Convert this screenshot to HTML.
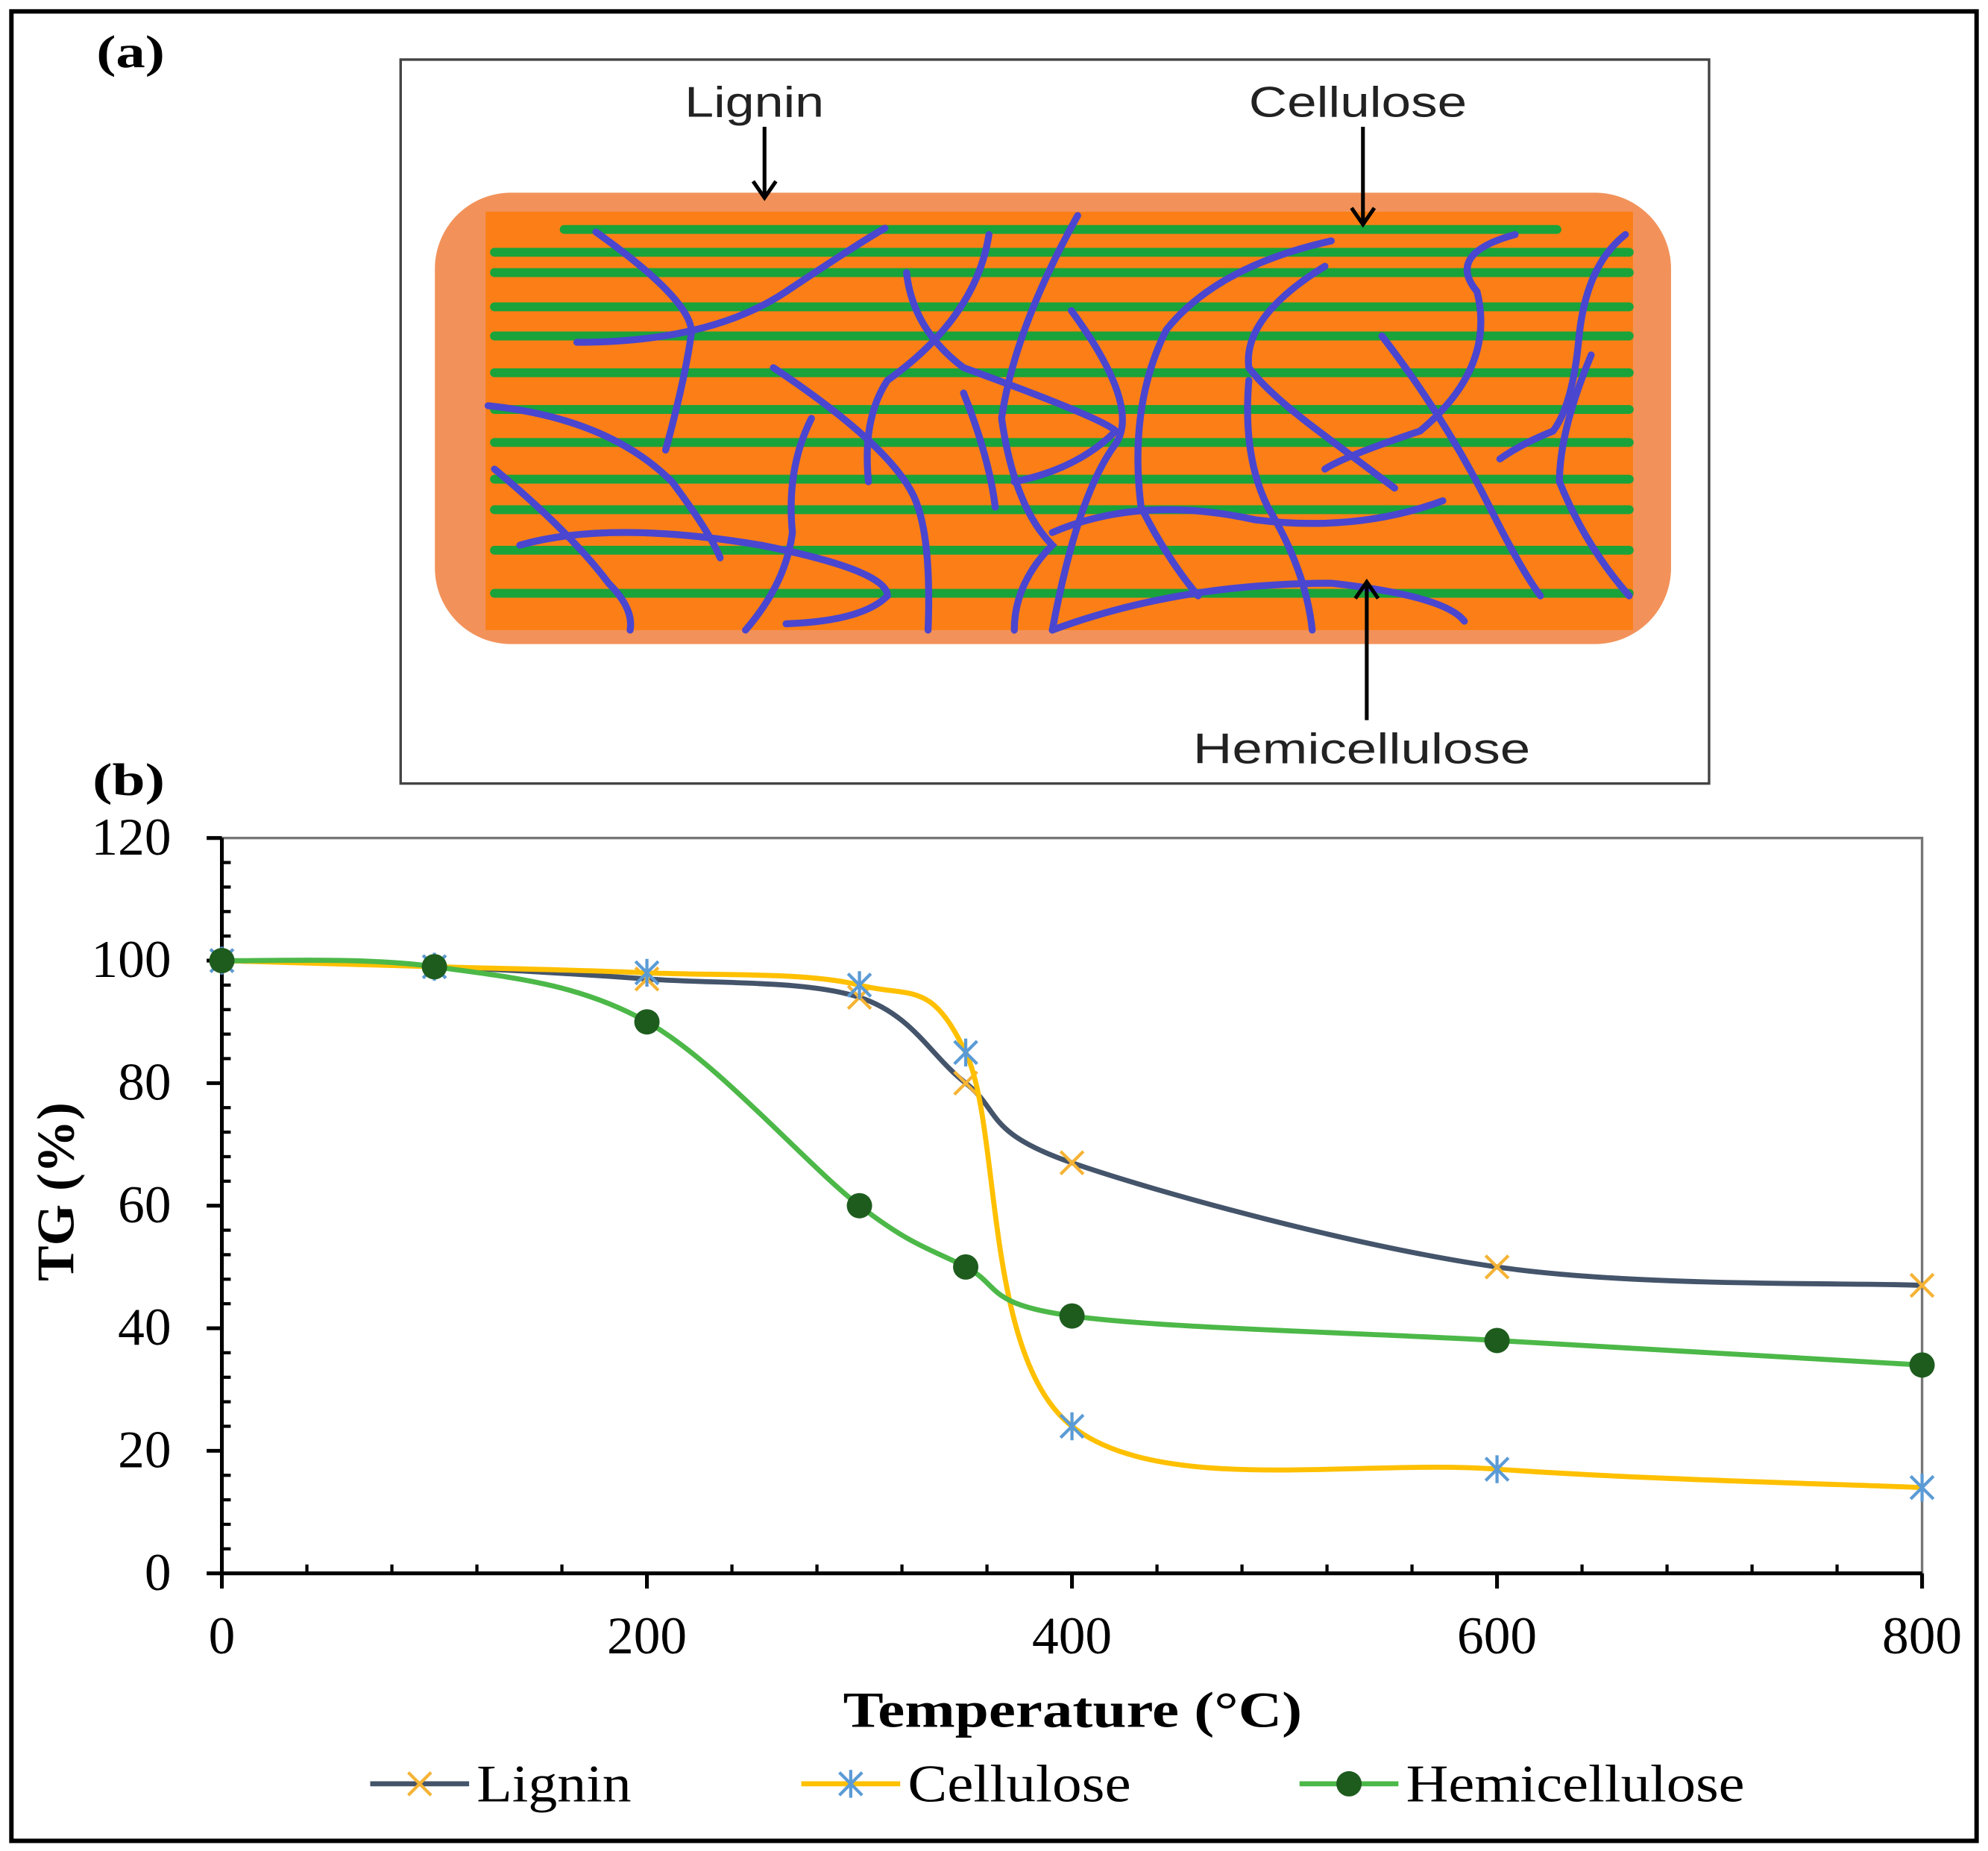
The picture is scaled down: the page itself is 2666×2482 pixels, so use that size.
<!DOCTYPE html>
<html><head><meta charset="utf-8"><style>
html,body{margin:0;padding:0;background:#fff;}
svg{display:block;}
</style></head><body>
<svg id="fig" width="2666" height="2482" viewBox="0 0 1568 1460" preserveAspectRatio="none" xmlns="http://www.w3.org/2000/svg">
<rect x="9" y="9" width="1550" height="1443" fill="#fff" stroke="#000" stroke-width="3.5"/>
<text x="76" y="53" font-family="Liberation Serif, serif" font-weight="bold" font-size="36" textLength="54" lengthAdjust="spacingAndGlyphs">(a)</text>
<text x="73" y="627" font-family="Liberation Serif, serif" font-weight="bold" font-size="36" textLength="57" lengthAdjust="spacingAndGlyphs">(b)</text>
<g>
<rect x="316" y="47" width="1032" height="571" fill="#fff" stroke="#444" stroke-width="2"/>
<rect x="343" y="152" width="975" height="356" rx="60" fill="#f2925a"/>
<rect x="383" y="167" width="905" height="330" fill="#fb7f16"/>
<g id="greens" stroke="#1aa33a" stroke-width="7" stroke-linecap="round"></g>
<g fill="none" stroke="#4a46d0" stroke-width="5.5" stroke-linecap="round">
<path d="M470 183 Q550 240 545 265 Q540 300 525 355"/>
<path d="M455 270 Q560 270 620 230 Q680 190 698 180"/>
<path d="M385 320 Q480 330 530 380 Q560 420 568 440"/>
<path d="M390 370 Q450 420 480 460 Q500 480 497 497"/>
<path d="M410 430 Q480 410 600 430 Q700 450 700 470 Q680 490 620 492"/>
<path d="M610 290 Q700 350 720 390 Q735 420 732 497"/>
<path d="M640 330 Q620 370 625 420 Q620 460 588 497"/>
<path d="M715 215 Q720 260 760 290 Q870 330 880 340 Q850 370 800 380"/>
<path d="M780 185 Q770 250 700 300 Q680 330 685 380"/>
<path d="M850 170 Q800 260 790 330 Q800 400 830 430 Q800 460 800 497"/>
<path d="M760 310 Q780 360 785 400"/>
<path d="M845 245 Q900 320 880 350 Q850 390 830 497"/>
<path d="M1050 190 Q960 210 920 260 Q890 320 900 400 Q920 440 945 470"/>
<path d="M1045 210 Q980 250 985 290 Q1000 310 1040 340 Q1080 370 1100 385"/>
<path d="M985 300 Q980 360 1000 400 Q1030 450 1035 497"/>
<path d="M830 420 Q900 390 990 410 Q1070 420 1138 395"/>
<path d="M830 497 Q930 460 1050 460 Q1140 470 1155 490"/>
<path d="M1195 185 Q1140 200 1165 230 Q1180 290 1120 340 Q1060 360 1045 370"/>
<path d="M1090 265 Q1140 330 1175 400 Q1200 450 1215 470"/>
<path d="M1282 185 Q1250 210 1245 270 Q1240 320 1225 340 Q1200 350 1183 362"/>
<path d="M1255 280 Q1230 340 1230 380 Q1250 430 1285 470"/>
</g>
<g stroke="#000" stroke-width="3" fill="none">
<line x1="603" y1="100" x2="603" y2="155"/><path d="M594 143 L603 156 L612 143"/>
<line x1="1075" y1="100" x2="1075" y2="176"/><path d="M1066 164 L1075 177 L1084 164"/>
<line x1="1078" y1="568" x2="1078" y2="460"/><path d="M1069 472 L1078 459 L1087 472"/>
</g>
<text x="540" y="92" font-family="Liberation Sans, sans-serif" font-size="34" fill="#222" textLength="110" lengthAdjust="spacingAndGlyphs">Lignin</text>
<text x="985" y="92" font-family="Liberation Sans, sans-serif" font-size="34" fill="#222" textLength="172" lengthAdjust="spacingAndGlyphs">Cellulose</text>
<text x="941" y="602" font-family="Liberation Sans, sans-serif" font-size="34" fill="#222" textLength="266" lengthAdjust="spacingAndGlyphs">Hemicellulose</text>
</g>
<g id="chart"></g>
</svg>
<script>
const greenYs=[181,199,215,242,265,294,323,349,378,402,434,468];
const gG=document.getElementById('greens');
greenYs.forEach((y,i)=>{const l=document.createElementNS('http://www.w3.org/2000/svg','line');


l.setAttribute('x1',i===0?445:390);l.setAttribute('x2',i===0?1228:1285);l.setAttribute('y1',y);l.setAttribute('y2',y);gG.appendChild(l);});

const temps=[0,100,200,300,350,400,600,800];
const lignin=[100,99,97,94,80,67,50,47];
const cellulose=[100,99,98,96,85,24,17,14];
const hemicellulose=[100,99,90,60,50,42,38,34];
const yTicks=[0,20,40,60,80,100,120];
const xTicks=[0,200,400,600,800];

const NS='http://www.w3.org/2000/svg';
const C=document.getElementById('chart');
const X0=175,X1=1516,Y0=1241,Y1=661;
const sx=v=>X0+(X1-X0)*v/800, sy=v=>Y0-(Y0-Y1)*v/120;
function mk(t,a,p){const e=document.createElementNS(NS,t);for(const k in a)e.setAttribute(k,a[k]);(p||C).appendChild(e);return e;}
const F='Liberation Serif, serif';
let e;
e=mk('path',{d:`M${X0} ${Y1} H${X1} V${Y0}`,fill:'none',stroke:'#777','stroke-width':2});


e=mk('line',{x1:X0,y1:Y1,x2:X0,y2:Y0,stroke:'#000','stroke-width':3});


e=mk('line',{x1:X0,y1:Y0,x2:X1,y2:Y0,stroke:'#000','stroke-width':3});


for(let v=0;v<=120;v+=4){const y=sy(v);
 if(v%20===0){mk('line',{x1:X0-12,x2:X0,y1:y,y2:y,stroke:'#000','stroke-width':3});}
 else mk('line',{x1:X0,x2:X0+7,y1:y,y2:y,stroke:'#000','stroke-width':2.5});}
yTicks.forEach(v=>{e=mk('text',{x:135,y:sy(v)+13,'text-anchor':'end','font-family':F,'font-size':42});e.textContent=v;

});
for(let v=0;v<=800;v+=40){const x=sx(v);
 if(v%200===0)mk('line',{x1:x,x2:x,y1:Y0,y2:Y0+12,stroke:'#000','stroke-width':3});
 else mk('line',{x1:x,x2:x,y1:Y0,y2:Y0-7,stroke:'#000','stroke-width':2.5});}
xTicks.forEach(v=>{e=mk('text',{x:sx(v),y:1304,'text-anchor':'middle','font-family':F,'font-size':42});e.textContent=v;

});
e=mk('text',{x:665,y:1362,'font-family':F,'font-size':40,'font-weight':'bold',textLength:362,lengthAdjust:'spacingAndGlyphs'});e.textContent='Temperature  (°C)';


e=mk('text',{x:0,y:0,transform:'translate(58 940) rotate(-90)','text-anchor':'middle','font-family':F,'font-size':42,'font-weight':'bold'});e.textContent='TG (%)';



function smooth(vals){const p=temps.map((t,i)=>[sx(t),sy(vals[i])]);let d=`M${p[0][0]} ${p[0][1]}`;
 for(let i=0;i<p.length-1;i++){const a=p[i-1]||p[i],b=p[i],c=p[i+1],n=p[i+2]||c;
 const k=1/6;d+=` C${b[0]+(c[0]-a[0])*k} ${b[1]+(c[1]-a[1])*k} ${c[0]-(n[0]-b[0])*k} ${c[1]-(n[1]-b[1])*k} ${c[0]} ${c[1]}`;}return d;}
function xm(x,y,col,g){mk('path',{d:`M${x-9} ${y-9}L${x+9} ${y+9}M${x-9} ${y+9}L${x+9} ${y-9}`,stroke:col,'stroke-width':2.5,fill:'none'},g);}
function star(x,y,col,g){mk('path',{d:`M${x-9} ${y-9}L${x+9} ${y+9}M${x-9} ${y+9}L${x+9} ${y-9}M${x} ${y-11}V${y+11}`,stroke:col,'stroke-width':2.5,fill:'none'},g);}
function dot(x,y,col,g){mk('circle',{cx:x,cy:y,r:10,fill:col},g);}
const series=[
 {name:'lignin',vals:lignin,col:'#44546a',w:4,mark:xm,mc:'#f5b335',label:'Lignin',lx:292,tl:122},
 {name:'cellulose',vals:cellulose,col:'#ffc000',w:4,mark:star,mc:'#5b9bd5',label:'Cellulose',lx:632,tl:176},
 {name:'hemicellulose',vals:hemicellulose,col:'#4cb848',w:4,mark:dot,mc:'#1e5c1e',label:'Hemicellulose',lx:1025,tl:267}];
series.forEach(s=>{const g=mk('g',{});
 
 
 mk('path',{d:smooth(s.vals),fill:'none',stroke:s.col,'stroke-width':s.w},g);
 temps.forEach((t,i)=>s.mark(sx(t),sy(s.vals[i]),s.mc,g));
 const lg=mk('g',{});
 
 
 mk('line',{x1:s.lx,x2:s.lx+78,y1:1407,y2:1407,stroke:s.col,'stroke-width':4},lg);
 s.mark(s.lx+39,1407,s.mc,lg);
 const t=mk('text',{x:s.lx+84,y:1421,'font-family':F,'font-size':42,textLength:s.tl,lengthAdjust:'spacingAndGlyphs'},lg);t.textContent=s.label;});
</script>
</body></html>
